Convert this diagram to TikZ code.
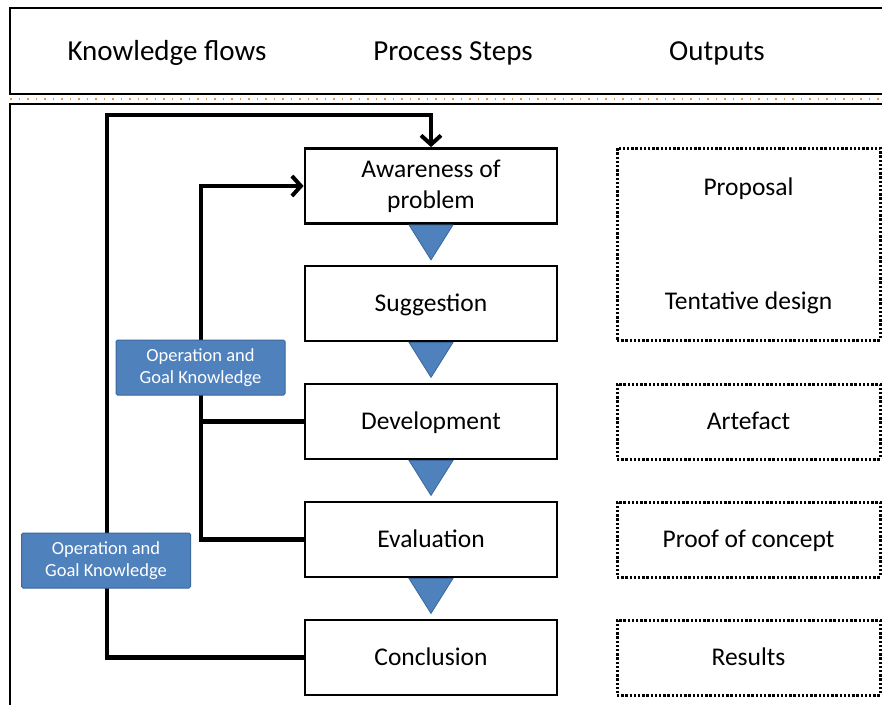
\documentclass[tikz,border=0pt]{standalone}
\usepackage{fontspec}
\setmainfont{Carlito}
\usetikzlibrary{arrows.meta,calc}
\definecolor{kblue}{HTML}{4F81BD}
\definecolor{kblueline}{HTML}{3A679C}
\definecolor{sepdot}{HTML}{E39A3A}
\begin{document}
\begin{tikzpicture}[x=1pt,y=-1pt,
  frame/.style={draw=black,line width=2.6pt},
  stepbox/.style={draw=black,line width=2.8pt,fill=white,minimum width=252pt,
    minimum height=75pt,align=center,font=\fontsize{25.5}{31}\selectfont,inner sep=0pt,
    text height=19pt,text depth=3pt},
  twoline/.style={text height={},text depth={}},
  outbox/.style={draw=black,line width=3pt,dash pattern=on 2.4pt off 1.8pt,
    minimum width=263pt,minimum height=75pt,inner sep=0pt,
    font=\fontsize{25.5}{28}\selectfont,text height=19pt,text depth=3pt},
  outtext/.style={font=\fontsize{25.5}{28}\selectfont},
  head/.style={font=\fontsize{29}{32}\selectfont},
  flow/.style={draw=black,line width=4.2pt},
  flowarrow/.style={flow,-{Straight Barb[length=9pt,width=20pt,line width=4pt]}},
  knowlabel/.style={fill=kblue,draw=kblueline,line width=1pt,rounded corners=1.5pt,
    text=white,align=center,minimum width=169pt,minimum height=55pt,inner sep=0pt,
    font=\fontsize{18.5}{22.5}\selectfont},
  marker/.style={fill=kblue,draw=kblueline,line width=0.8pt}
]
\useasboundingbox (0,0) rectangle (882,704);
\clip (0,0) rectangle (882,704);

% header band and body frame
\draw[frame] (10,8) rectangle (895,94);
\draw[sepdot,line width=2pt,dash pattern=on 1.5pt off 7pt] (10,98.5) -- (882,98.5);
\draw[frame] (10,104) rectangle (895,720);

\node[head] (hk) at (167,53) {Knowledge flows};
\node[head] (hp) at (453,53) {Process Steps};
\node[head] (ho) at (717,53) {Outputs};

% process steps
\node[stepbox,twoline] (s1) at (431,186) {Awareness of\\problem};
\node[stepbox] (s2) at (431,303.5) {Suggestion};
\node[stepbox] (s3) at (431,421.5) {Development};
\node[stepbox] (s4) at (431,539.5) {Evaluation};
\node[stepbox] (s5) at (431,657.5) {Conclusion};

% markers between consecutive steps
\foreach \a in {s1,s2,s3,s4}{
  \filldraw[marker] ($(\a.south)+(-22,0)$) -- ($(\a.south)+(22,0)$) -- ($(\a.south)+(0,35)$) -- cycle;
}

% outputs
\node[outbox,minimum height=192pt] (o1) at (748.5,244) {};
\node[outtext] (o1a) at (748.5,189) {Proposal};
\node[outtext] (o1b) at (748.5,303) {Tentative design};
\node[outbox] (o3) at (748.5,421.5) {Artefact};
\node[outbox] (o4) at (748.5,539.5) {Proof of concept};
\node[outbox] (o5) at (748.5,657.5) {Results};

% knowledge flows
\coordinate (outer) at (107,115);
\coordinate (inner) at (201,186);
\draw[flowarrow] (s5.west) -| (outer) -| (s1.north);
\draw[flowarrow] (s4.west) -| (inner) -- (s1.west);
\draw[flow] (s3.west) -- (s3.west -| inner);

\node[knowlabel] (k1) at (200.5,367.5) {Operation and\\Goal Knowledge};
\node[knowlabel] (k2) at (106,560.5) {Operation and\\Goal Knowledge};
\end{tikzpicture}
\end{document}
